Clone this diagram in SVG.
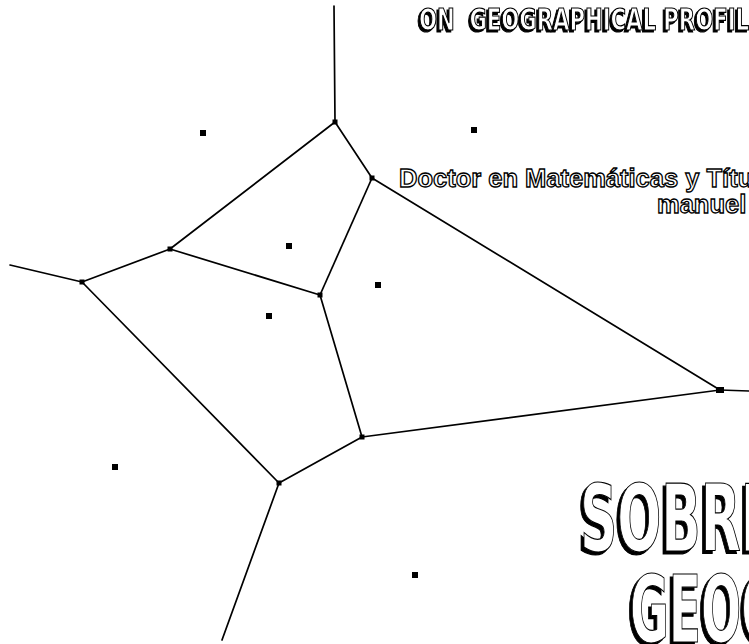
<svg xmlns="http://www.w3.org/2000/svg" width="749" height="644" viewBox="0 0 749 644">
<defs>
<filter id="shadow" x="-10%" y="-20%" width="120%" height="140%">
<feOffset in="SourceAlpha" dx="-3" dy="3" result="off"/>
<feFlood flood-color="#000"/>
<feComposite in2="off" operator="in" result="sh"/>
<feMerge><feMergeNode in="sh"/><feMergeNode in="SourceGraphic"/></feMerge>
</filter>
<filter id="shadowSmall" x="-10%" y="-20%" width="120%" height="140%">
<feOffset in="SourceAlpha" dx="-2" dy="2" result="off"/>
<feFlood flood-color="#000"/>
<feComposite in2="off" operator="in" result="sh"/>
<feMerge><feMergeNode in="sh"/><feMergeNode in="SourceGraphic"/></feMerge>
</filter>
</defs>
<style>
.edge{stroke:#000;stroke-width:1.7;fill:none;stroke-linecap:round}
.site{fill:#000}
.vtx{fill:#000}
.stencil{font-family:"DejaVu Sans Condensed","Liberation Sans Narrow","Liberation Sans",sans-serif;font-weight:bold;fill:#fff;stroke:#000;stroke-width:1.2}
.outl{font-family:"Liberation Sans",Arial,sans-serif;font-weight:bold;font-size:25.5px;fill:#fff;stroke:#000;stroke-width:1.3}
</style>
<rect width="749" height="644" fill="#fff"/>
<g id="connectors">
<line class="edge" x1="334" y1="6" x2="335" y2="122"/>
<line class="edge" x1="335" y1="122" x2="170" y2="249"/>
<line class="edge" x1="335" y1="122" x2="372" y2="178"/>
<line class="edge" x1="372" y1="178" x2="320" y2="295"/>
<line class="edge" x1="372" y1="178" x2="720" y2="390"/>
<line class="edge" x1="170" y1="249" x2="82" y2="282"/>
<line class="edge" x1="170" y1="249" x2="320" y2="295"/>
<line class="edge" x1="82" y1="282" x2="10" y2="265"/>
<line class="edge" x1="82" y1="282" x2="279" y2="483"/>
<line class="edge" x1="320" y1="295" x2="362" y2="437"/>
<line class="edge" x1="362" y1="437" x2="279" y2="483"/>
<line class="edge" x1="362" y1="437" x2="720" y2="390"/>
<line class="edge" x1="279" y1="483" x2="222" y2="640"/>
<line class="edge" x1="720" y1="390" x2="749" y2="391"/>
</g>
<g id="vertices">
<rect id="vA" class="vtx" x="332.5" y="119.5" width="5" height="5"/>
<rect id="vB" class="vtx" x="369.5" y="175.5" width="5" height="5"/>
<rect id="vC" class="vtx" x="167.5" y="246.5" width="5" height="5"/>
<rect id="vD" class="vtx" x="79.5" y="279.5" width="5" height="5"/>
<rect id="vE" class="vtx" x="317.5" y="292.5" width="5" height="5"/>
<rect id="vF" class="vtx" x="359.5" y="434.5" width="5" height="5"/>
<rect id="vG" class="vtx" x="276.5" y="480.5" width="5" height="5"/>
<rect id="vH" class="vtx" x="716" y="387" width="8" height="6"/>
</g>
<g id="sites">
<rect id="s1" class="site" x="200" y="130" width="6" height="6"/>
<rect id="s2" class="site" x="471" y="127" width="6" height="6"/>
<rect id="s3" class="site" x="286" y="243" width="6" height="6"/>
<rect id="s4" class="site" x="375" y="282" width="6" height="6"/>
<rect id="s5" class="site" x="266" y="313" width="6" height="6"/>
<rect id="s6" class="site" x="112" y="464" width="6" height="6"/>
<rect id="s7" class="site" x="412" y="572" width="6" height="6"/>
</g>
<g id="title-top">
<text class="stencil" filter="url(#shadowSmall)" x="419" y="30" font-size="30" textLength="330" lengthAdjust="spacingAndGlyphs" xml:space="preserve">ON  GEOGRAPHICAL PROFIL</text>
</g>
<g id="author">
<text class="outl" x="399" y="187">Doctor en Matemáticas y Títu</text>
<text class="outl" x="657" y="213">manuel</text>
</g>
<g id="title-big">
<text class="stencil" filter="url(#shadow)" x="580" y="551" font-size="92" textLength="180" lengthAdjust="spacingAndGlyphs">SOBRI</text>
<text class="stencil" filter="url(#shadow)" x="630" y="642" font-size="92" textLength="150" lengthAdjust="spacingAndGlyphs">GEOG</text>
</g>
</svg>
